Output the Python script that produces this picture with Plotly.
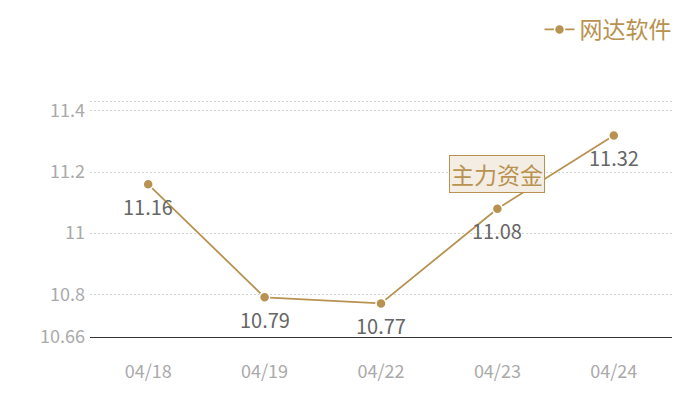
import plotly.graph_objects as go

# daily price series
dates = ["04/18", "04/19", "04/22", "04/23", "04/24"]
prices = [11.16, 10.79, 10.77, 11.08, 11.32]
series_name = "网达软件"
y_ticks = [10.66, 10.8, 11, 11.2, 11.4, 11.43]
y_tick_text = ["10.66", "10.8", "11", "11.2", "11.4", ""]

gold = "#b89250"
font = "Noto Sans CJK SC"

fig = go.Figure()

fig.add_trace(go.Scatter(
    x=dates, y=prices, name=series_name,
    mode="lines+markers",
    line=dict(color=gold, width=1.8),
    marker=dict(color=gold, size=10, line=dict(color="white", width=1.5)),
    cliponaxis=False,
))

# value labels under each point
for d, v in zip(dates, prices):
    fig.add_annotation(
        x=d, y=v, xref="x", yref="y", text=f"{v:.2f}",
        showarrow=False, yshift=-22,
        font=dict(color="#666666", size=20, family=font),
    )

# boxed label near 04/23
fig.add_annotation(
    x="04/23", y=11.195, xref="x", yref="y",
    text="主力资金", showarrow=False,
    font=dict(color=gold, size=23, family=font),
    bgcolor="#f3ede4", bordercolor=gold, borderwidth=1, borderpad=1,
)

fig.update_xaxes(
    range=[-0.5, 4.5],
    showgrid=False, zeroline=False,
    showline=True, linecolor="#333333", linewidth=1,
    ticks="", ticklabelstandoff=18,
    tickfont=dict(color="#aaaaaa", size=18, family=font),
)
fig.update_yaxes(
    range=[10.66, 11.436], tickvals=y_ticks, ticktext=y_tick_text,
    showgrid=True, gridcolor="#d4d4d4", griddash="2px,2px", gridwidth=1,
    zeroline=False, showline=False, ticks="", ticklabelstandoff=4,
    tickfont=dict(color="#aaaaaa", size=18, family=font),
)

# page body adds 8px offset, so margins are shifted to compensate
fig.update_layout(
    width=700, height=400,
    margin=dict(l=82, r=36, t=92, b=71, autoexpand=False),
    plot_bgcolor="white", paper_bgcolor="white",
    font=dict(family=font),
    showlegend=True,
    legend=dict(
        xref="container", yref="container",
        x=0.955, xanchor="right", y=1.02, yanchor="top",
        font=dict(color=gold, size=23, family=font),
        bgcolor="rgba(0,0,0,0)", itemwidth=30,
    ),
)

fig.write_html("out.html")
